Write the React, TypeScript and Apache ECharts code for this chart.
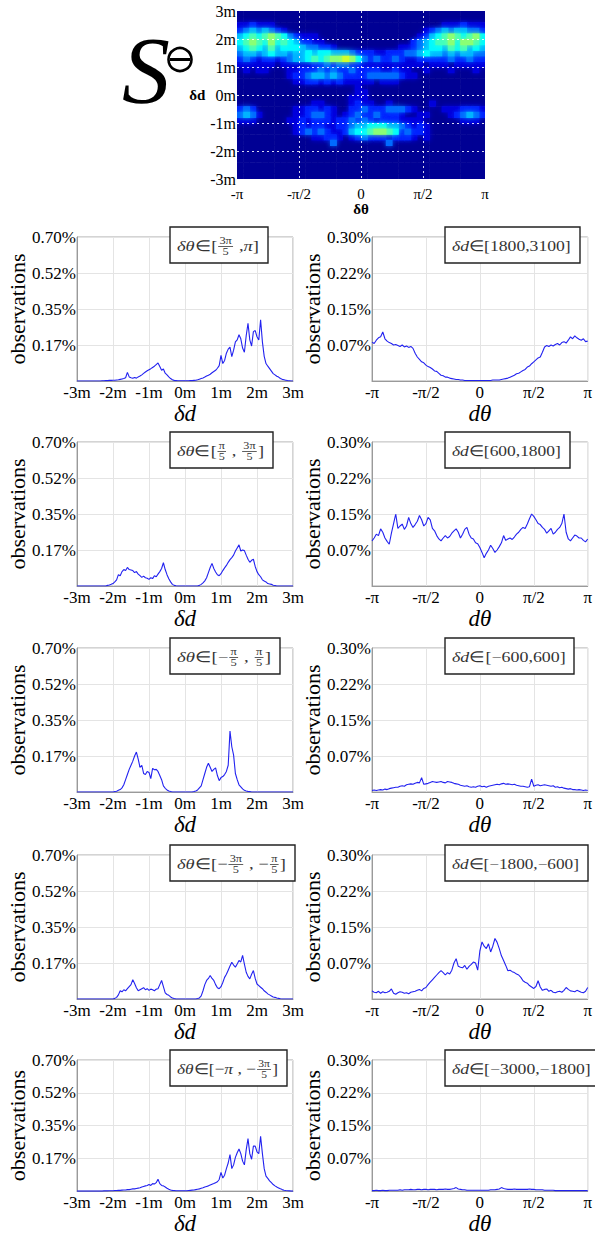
import React, { useEffect, useRef } from 'react';
import * as echarts from 'echarts';

const FONT = 'Liberation Serif';

// ---------- Heatmap (S⊖) ----------
const HEAT_THETA_LABELS = ['-π', '-π/2', '0', 'π/2', 'π'];
const HEAT_D_LABELS = ['-3m', '-2m', '-1m', '0m', '1m', '2m', '3m'];
// 30 rows (δd from 3m at top down to -3m), 40 columns (δθ from -π to π); intensity 0..9
const HEAT_ROWS = [
  '0000000000' + '0000000000' + '0000000000' + '0000000000',
  '0000000000' + '0000000000' + '0000000000' + '0000000000',
  '1121110000' + '0000000000' + '0000000000' + '0001112111',
  '2343432100' + '0000000000' + '0000000000' + '1234344332',
  '4565676532' + '1110000000' + '0000000001' + '2456765675',
  '5676575654' + '2211000000' + '0000000023' + '4566757765',
  '4565464555' + '4332210000' + '0000001123' + '4554656454',
  '3443454434' + '4545544432' + '2211222334' + '5443434433',
  '2321221234' + '4565677875' + '3232232112' + '2222322322',
  '1111110111' + '1122323322' + '1111111111' + '0111011111',
  '0101100011' + '2223232232' + '2221121100' + '1000100010',
  '0000000012' + '2344343222' + '2333332110' + '0000000000',
  '0000000001' + '1221212111' + '1101110000' + '0000000000',
  '0000000000' + '0000000001' + '0000000000' + '0000000000',
  '0000000000' + '0000000001' + '1000000000' + '0000000000',
  '0000000000' + '0000000011' + '1000000000' + '0000000000',
  '0000000000' + '0011000012' + '1100100000' + '0100000000',
  '2320000001' + '1221210022' + '3222333210' + '0001112221',
  '3431000001' + '1233210123' + '2232221001' + '1000123432',
  '1110000011' + '2122212232' + '3212221111' + '0000001110',
  '0000000001' + '2122112234' + '4555443212' + '1000000000',
  '0000000001' + '2323211245' + '5677652322' + '1000000000',
  '0000000000' + '0011221012' + '3222122210' + '1000000000',
  '0000000000' + '0000030000' + '0000300000' + '0000000000',
  '0000000000' + '0000000000' + '0000000000' + '0000000000',
  '0000000000' + '0000000000' + '0000000000' + '0000000000',
  '0000000000' + '0000000000' + '0000000000' + '0000000000',
  '0000000000' + '0000000000' + '0000000000' + '0000000000',
  '0000000000' + '0000000000' + '0000000000' + '0000000000',
  '0000000000' + '0000000000' + '0000000000' + '0000000000',
];

// ---------- Line panels ----------
const LEFT_X_LABELS = ['-3m', '-2m', '-1m', '0m', '1m', '2m', '3m'];
const RIGHT_X_LABELS = ['-π', '-π/2', '0', 'π/2', 'π'];
const LEFT_Y_LABELS = ['0.17%', '0.35%', '0.52%', '0.70%'];
const RIGHT_Y_LABELS = ['0.07%', '0.15%', '0.22%', '0.30%'];

// δd sampled from -3m to 3m in steps of 0.05m (121 values), in %
const L1 = [0,0,0,0,0,0,0,0,0,0,
  0,0,0,0,0.001,0.001,0.002,0.002,0.003,0.003,
  0.004,0.004,0.005,0.006,0.008,0.01,0.012,0.016,0.042,0.02,
  0.016,0.013,0.017,0.014,0.02,0.024,0.03,0.037,0.044,0.05,
  0.055,0.06,0.066,0.072,0.08,0.088,0.07,0.052,0.058,0.038,
  0.03,0.02,0.012,0.006,0.003,0.002,0.001,0.001,0.001,0.001,
  0.001,0.001,0.001,0.002,0.002,0.003,0.004,0.006,0.009,0.012,
  0.015,0.019,0.024,0.028,0.033,0.04,0.046,0.052,0.062,0.075,
  0.125,0.085,0.1,0.135,0.155,0.165,0.118,0.15,0.19,0.2,
  0.225,0.205,0.16,0.14,0.22,0.28,0.2,0.17,0.24,0.245,
  0.215,0.2,0.298,0.19,0.12,0.085,0.072,0.06,0.048,0.036,
  0.03,0.023,0.019,0.012,0.008,0.006,0.004,0.002,0.001,0,
  0];
const L2 = [0,0,0,0,0,0,0,0,0,0,
  0,0,0,0,0,0,0,0.003,0.005,0.008,
  0.012,0.02,0.03,0.055,0.05,0.07,0.08,0.075,0.09,0.08,
  0.078,0.075,0.065,0.07,0.058,0.05,0.042,0.048,0.04,0.038,
  0.032,0.04,0.036,0.05,0.045,0.058,0.07,0.085,0.113,0.08,
  0.055,0.035,0.02,0.008,0.003,0.001,0,0,0,0,
  0,0,0,0,0,0,0,0,0.003,0.008,
  0.015,0.025,0.04,0.065,0.09,0.11,0.085,0.068,0.055,0.05,
  0.06,0.075,0.088,0.1,0.115,0.128,0.138,0.15,0.17,0.185,
  0.2,0.17,0.175,0.172,0.15,0.13,0.115,0.125,0.13,0.095,
  0.07,0.055,0.045,0.03,0.024,0.02,0.012,0.01,0.008,0.004,
  0.002,0,0,0,0,0,0,0,0,0,
  0];
const L3 = [0,0,0,0,0,0,0,0,0,0,
  0,0,0,0,0,0,0,0,0,0,
  0,0.002,0.004,0.008,0.012,0.02,0.035,0.06,0.085,0.11,
  0.13,0.15,0.175,0.194,0.16,0.12,0.13,0.09,0.085,0.1,
  0.095,0.065,0.115,0.108,0.11,0.1,0.08,0.06,0.03,0.018,
  0.01,0.005,0.002,0,0,0,0,0,0,0,
  0,0,0,0,0,0.002,0.005,0.01,0.02,0.03,
  0.06,0.09,0.12,0.14,0.12,0.1,0.11,0.117,0.08,0.055,
  0.07,0.075,0.085,0.1,0.13,0.296,0.22,0.179,0.09,0.06,
  0.035,0.025,0.015,0.008,0.005,0.003,0.002,0,0,0,
  0,0,0,0,0,0,0,0,0,0,
  0,0,0,0,0,0,0,0,0,0,
  0];
const L4 = [0,0,0,0,0,0,0,0,0,0,
  0,0,0,0,0,0,0,0,0,0,
  0,0.003,0.008,0.02,0.04,0.035,0.045,0.04,0.05,0.06,
  0.07,0.094,0.075,0.055,0.04,0.045,0.05,0.055,0.045,0.05,
  0.042,0.048,0.045,0.04,0.048,0.05,0.07,0.09,0.06,0.03,
  0.022,0.018,0.01,0.005,0.002,0,0,0,0,0,
  0,0,0,0,0,0,0,0.002,0.005,0.015,
  0.04,0.07,0.09,0.1,0.114,0.1,0.09,0.07,0.055,0.05,
  0.06,0.08,0.105,0.12,0.14,0.16,0.179,0.165,0.155,0.17,
  0.187,0.18,0.212,0.17,0.13,0.11,0.098,0.12,0.138,0.1,
  0.073,0.065,0.057,0.05,0.04,0.033,0.025,0.02,0.015,0.01,
  0.008,0.005,0.003,0.001,0,0,0,0,0,0,
  0];
const L5 = [0,0,0,0,0,0,0,0,0,0,
  0,0,0,0,0,0.001,0.001,0.001,0.002,0.002,
  0.002,0.003,0.003,0.004,0.004,0.005,0.006,0.006,0.008,0.008,
  0.01,0.012,0.012,0.014,0.016,0.018,0.022,0.025,0.028,0.03,
  0.035,0.03,0.04,0.038,0.045,0.063,0.04,0.03,0.028,0.022,
  0.015,0.01,0.006,0.004,0.003,0.002,0.002,0.002,0.002,0.002,
  0.002,0.002,0.003,0.004,0.005,0.006,0.008,0.01,0.012,0.015,
  0.018,0.022,0.025,0.028,0.032,0.036,0.04,0.045,0.05,0.062,
  0.1,0.07,0.085,0.12,0.15,0.195,0.12,0.14,0.18,0.205,
  0.225,0.2,0.16,0.14,0.22,0.28,0.2,0.17,0.24,0.24,
  0.21,0.2,0.293,0.2,0.12,0.08,0.068,0.055,0.045,0.035,
  0.028,0.022,0.017,0.012,0.008,0.005,0.003,0.002,0.001,0,
  0];

// dθ sampled from -π to π in steps of π/50 (101 values), in %
const R1 = [0.081,0.078,0.085,0.09,0.092,0.102,0.088,0.083,0.08,0.078,
  0.075,0.076,0.074,0.072,0.075,0.071,0.073,0.07,0.072,0.068,
  0.058,0.05,0.045,0.04,0.038,0.033,0.03,0.028,0.025,0.021,
  0.02,0.016,0.012,0.011,0.008,0.008,0.006,0.005,0.004,0.003,
  0.003,0.002,0.002,0.001,0.001,0.001,0.001,0.001,0.001,0.001,
  0.001,0.001,0.001,0.001,0.001,0.001,0.002,0.002,0.002,0.002,
  0.003,0.004,0.005,0.006,0.008,0.01,0.012,0.015,0.016,0.019,
  0.022,0.024,0.029,0.031,0.036,0.04,0.044,0.048,0.05,0.06,
  0.071,0.074,0.072,0.075,0.073,0.076,0.078,0.075,0.08,0.082,
  0.079,0.085,0.092,0.088,0.094,0.09,0.087,0.085,0.088,0.082,
  0.083];
const R2 = [0.094,0.1,0.108,0.105,0.119,0.112,0.1,0.093,0.087,0.11,
  0.13,0.15,0.12,0.125,0.129,0.118,0.125,0.143,0.13,0.122,
  0.128,0.135,0.147,0.138,0.125,0.13,0.143,0.138,0.12,0.115,
  0.105,0.098,0.094,0.1,0.105,0.1,0.103,0.11,0.115,0.119,
  0.112,0.1,0.108,0.118,0.122,0.108,0.1,0.098,0.09,0.088,
  0.08,0.07,0.059,0.068,0.075,0.085,0.078,0.07,0.075,0.082,
  0.09,0.105,0.095,0.098,0.1,0.097,0.102,0.108,0.112,0.118,
  0.122,0.12,0.129,0.14,0.15,0.145,0.138,0.13,0.128,0.122,
  0.118,0.11,0.115,0.12,0.108,0.112,0.118,0.122,0.13,0.15,
  0.112,0.098,0.094,0.1,0.106,0.104,0.1,0.1,0.095,0.092,
  0.098];
const R3 = [0.003,0.004,0.003,0.004,0.005,0.004,0.006,0.005,0.007,0.008,
  0.009,0.01,0.01,0.012,0.013,0.012,0.015,0.016,0.017,0.016,
  0.018,0.02,0.019,0.03,0.016,0.017,0.018,0.02,0.022,0.021,
  0.02,0.021,0.022,0.02,0.019,0.022,0.021,0.02,0.018,0.017,
  0.016,0.014,0.013,0.012,0.013,0.011,0.01,0.011,0.01,0.012,
  0.013,0.011,0.012,0.01,0.012,0.013,0.014,0.015,0.016,0.015,
  0.017,0.018,0.016,0.017,0.016,0.015,0.016,0.014,0.013,0.012,
  0.012,0.011,0.01,0.011,0.027,0.012,0.014,0.015,0.013,0.014,
  0.015,0.014,0.013,0.012,0.013,0.01,0.011,0.009,0.01,0.008,
  0.007,0.006,0.007,0.005,0.005,0.004,0.005,0.004,0.003,0.004,
  0.003];
const R4 = [0.017,0.014,0.013,0.016,0.012,0.015,0.013,0.014,0.016,0.021,
  0.012,0.01,0.013,0.015,0.014,0.012,0.013,0.011,0.014,0.015,
  0.016,0.018,0.02,0.017,0.022,0.024,0.03,0.035,0.04,0.045,
  0.05,0.055,0.059,0.055,0.05,0.055,0.052,0.06,0.075,0.084,
  0.068,0.066,0.065,0.07,0.062,0.068,0.072,0.077,0.075,0.06,
  0.1,0.119,0.11,0.105,0.115,0.098,0.11,0.126,0.118,0.105,
  0.09,0.08,0.07,0.059,0.06,0.057,0.055,0.052,0.05,0.045,
  0.038,0.035,0.033,0.028,0.025,0.022,0.026,0.038,0.025,0.018,
  0.02,0.021,0.016,0.018,0.014,0.013,0.015,0.016,0.014,0.018,
  0.024,0.02,0.017,0.016,0.015,0.018,0.016,0.014,0.013,0.016,
  0.024];
const R5 = [0.001,0.001,0.002,0.001,0.001,0.002,0.001,0.001,0.002,0.002,
  0.002,0.002,0.002,0.003,0.002,0.003,0.003,0.003,0.004,0.003,
  0.003,0.004,0.004,0.003,0.004,0.004,0.003,0.004,0.004,0.004,
  0.003,0.004,0.004,0.004,0.005,0.004,0.004,0.005,0.006,0.008,
  0.005,0.004,0.003,0.003,0.002,0.002,0.002,0.002,0.002,0.002,
  0.002,0.002,0.002,0.002,0.002,0.003,0.003,0.003,0.004,0.005,
  0.008,0.006,0.005,0.004,0.004,0.004,0.005,0.004,0.004,0.004,
  0.004,0.004,0.004,0.005,0.004,0.004,0.003,0.003,0.003,0.003,
  0.002,0.002,0.002,0.002,0.002,0.001,0.001,0.001,0.001,0.001,
  0.001,0.001,0.001,0.001,0.001,0.001,0.001,0.001,0.001,0.001,
  0.001];

const LEFT_SERIES = [L1, L2, L3, L4, L5];
const RIGHT_SERIES = [R1, R2, R3, R4, R5];

type Tok = { s: string; it?: boolean } | { n: string; d: string };
const LEFT_LEGENDS: Tok[][] = [
  [{ s: 'δθ', it: true }, { s: '∈[' }, { n: '3π', d: '5' }, { s: ' ,' }, { s: 'π', it: true }, { s: ']' }],
  [{ s: 'δθ', it: true }, { s: '∈[' }, { n: 'π', d: '5' }, { s: ' , ' }, { n: '3π', d: '5' }, { s: ']' }],
  [{ s: 'δθ', it: true }, { s: '∈[−' }, { n: 'π', d: '5' }, { s: ' , ' }, { n: 'π', d: '5' }, { s: ']' }],
  [{ s: 'δθ', it: true }, { s: '∈[−' }, { n: '3π', d: '5' }, { s: ' , −' }, { n: 'π', d: '5' }, { s: ']' }],
  [{ s: 'δθ', it: true }, { s: '∈[−' }, { s: 'π', it: true }, { s: ' , −' }, { n: '3π', d: '5' }, { s: ']' }],
];
const RIGHT_LEGENDS: Tok[][] = [
  [{ s: 'δd', it: true }, { s: '∈[1800,3100]' }],
  [{ s: 'δd', it: true }, { s: '∈[600,1800]' }],
  [{ s: 'δd', it: true }, { s: '∈[−600,600]' }],
  [{ s: 'δd', it: true }, { s: '∈[−1800,−600]' }],
  [{ s: 'δd', it: true }, { s: '∈[−3000,−1800]' }],
];

// ---------- layout ----------
const ROW_TOPS = [237, 442, 648, 855, 1060];
const PANEL_H = 144;
const LEFT_X = 77;
const RIGHT_X = 372;
const PANEL_W = 216;
const LEFT_BOX_W = [98, 103, 110, 125, 117];
const RIGHT_BOX_W = [135, 125, 129, 143, 155];

let measureCtx: CanvasRenderingContext2D | null = null;
function measure(text: string, font: string): number {
  if (!measureCtx) measureCtx = document.createElement('canvas').getContext('2d');
  if (!measureCtx) return text.length * 8;
  measureCtx.font = font;
  return measureCtx.measureText(text).width;
}

function jet(v: number): string {
  const t = 0.02 + v * 0.07;
  const c = (x: number) => Math.max(0, Math.min(1, x));
  const r = c(1.5 - Math.abs(4 * t - 3));
  const g = c(1.5 - Math.abs(4 * t - 2));
  const b = c(1.5 - Math.abs(4 * t - 1));
  return `rgb(${Math.round(r * 255)},${Math.round(g * 255)},${Math.round(b * 255)})`;
}

function txtStyle(text: string, font: string, align: string, fill: string) {
  return { text, font, fill, align, verticalAlign: 'middle', textAlign: align, textVerticalAlign: 'middle' };
}

function legendElements(boxX: number, boxY: number, boxW: number, toks: Tok[]): any[] {
  const color = '#333';
  const children: any[] = [];
  let x = 0;
  const fracFont = `10px ${FONT}`;
  for (const t of toks) {
    if ('n' in t) {
      const w = Math.max(measure(t.n, fracFont), measure(t.d, fracFont)) + 2;
      x += 1;
      children.push({ type: 'text', x: x + w / 2, y: -5.5, style: txtStyle(t.n, fracFont, 'center', color) });
      children.push({ type: 'text', x: x + w / 2, y: 5.5, style: txtStyle(t.d, fracFont, 'center', color) });
      children.push({ type: 'line', shape: { x1: x, y1: 0.5, x2: x + w, y2: 0.5 }, style: { stroke: color, lineWidth: 0.7 } });
      x += w + 1;
    } else {
      const font = `${t.it ? 'italic ' : ''}15px ${FONT}`;
      children.push({ type: 'text', x, y: 0, style: txtStyle(t.s, font, 'left', color) });
      x += measure(t.s, font);
    }
  }
  const scale = Math.max(1, Math.min(1.35, (boxW - 16) / x));
  return [
    { type: 'rect', z: 100, shape: { x: boxX, y: boxY, width: boxW, height: 36 }, style: { fill: '#fff', stroke: '#222', lineWidth: 1.4 } },
    { type: 'group', z: 101, x: boxX + 7, y: boxY + 19, scaleX: scale, children: children.map((c) => ({ ...c, z: 101 })) },
  ];
}

function buildOption(): any {
  const grids: any[] = [];
  const xAxes: any[] = [];
  const yAxes: any[] = [];
  const series: any[] = [];
  const graphics: any[] = [];

  // heatmap grid
  grids.push({ left: 237, top: 11, width: 248, height: 168, show: false });
  xAxes.push({
    gridIndex: 0, type: 'value', min: -1, max: 1, interval: 0.5, z: 5,
    axisLine: { show: false, onZero: false }, axisTick: { show: false },
    axisLabel: { formatter: (v: number) => HEAT_THETA_LABELS[Math.round((v + 1) / 0.5)] ?? '', fontFamily: FONT, fontSize: 15, color: '#000', margin: 7 },
    splitLine: { show: true, showMinLine: false, showMaxLine: false, lineStyle: { color: '#ffffff', type: [2, 3], width: 1, opacity: 0.85 } },
    name: 'δθ', nameLocation: 'middle', nameGap: 16,
    nameTextStyle: { fontFamily: FONT, fontWeight: 'bold', fontSize: 15, color: '#000' },
  });
  yAxes.push({
    gridIndex: 0, type: 'value', min: -3, max: 3, interval: 1, z: 5,
    axisLine: { show: false, onZero: false }, axisTick: { show: false },
    axisLabel: { formatter: (v: number) => HEAT_D_LABELS[Math.round(v + 3)] ?? '', fontFamily: FONT, fontSize: 16, color: '#000', margin: 1 },
    splitLine: { show: true, showMinLine: false, showMaxLine: false, lineStyle: { color: '#ffffff', type: [2, 3], width: 1, opacity: 0.85 } },
    name: 'δd', nameLocation: 'middle', nameGap: 25, nameRotate: 0,
    nameTextStyle: { fontFamily: FONT, fontWeight: 'bold', fontSize: 15, color: '#000' },
  });
  const nCols = 40;
  const nRows = HEAT_ROWS.length;
  const cw = 2 / nCols;
  const ch = 6 / nRows;
  const heatData: number[][] = [];
  HEAT_ROWS.forEach((row, r) => {
    const s = row.padEnd(nCols, '0');
    for (let c = 0; c < nCols; c++) {
      heatData.push([-1 + (c + 0.5) * cw, 3 - (r + 0.5) * ch, Number(s[c])]);
    }
  });
  // draw low values first so brighter cells sit on top
  heatData.sort((a, b) => a[2] - b[2]);
  series.push({
    type: 'custom', xAxisIndex: 0, yAxisIndex: 0, silent: true, clip: true,
    data: heatData,
    encode: { x: 0, y: 1 },
    renderItem: (_p: any, api: any) => {
      const x = api.value(0);
      const y = api.value(1);
      const v = api.value(2);
      const p0 = api.coord([x - cw / 2, y + ch / 2]);
      const p1 = api.coord([x + cw / 2, y - ch / 2]);
      const col = jet(v);
      const style: any = { fill: col };
      if (v > 0) {
        style.shadowBlur = 5;
        style.shadowColor = col;
      }
      return {
        type: 'rect',
        shape: { x: p0[0], y: p0[1], width: p1[0] - p0[0] + 0.6, height: p1[1] - p0[1] + 0.6 },
        style,
      };
    },
  });

  // S⊖ symbol
  graphics.push({ type: 'text', x: 122, y: 70, style: txtStyle('S', `italic 96px ${FONT}`, 'left', '#000') });
  graphics.push({ type: 'circle', shape: { cx: 180, cy: 59.5, r: 11.5 }, style: { fill: 'none', stroke: '#000', lineWidth: 2.6 } });
  graphics.push({ type: 'line', shape: { x1: 170, y1: 59.5, x2: 190, y2: 59.5 }, style: { stroke: '#000', lineWidth: 3 } });

  // line panels
  for (let k = 0; k < 5; k++) {
    for (let s = 0; s < 2; s++) {
      const gi = grids.length;
      const top = ROW_TOPS[k];
      const left = s === 0 ? LEFT_X : RIGHT_X;
      grids.push({ left, top, width: PANEL_W, height: PANEL_H, show: true, borderColor: '#a8a8a8', borderWidth: 1, backgroundColor: '#fff' });
      const xmin = s === 0 ? -3 : -1;
      const xint = s === 0 ? 1 : 0.5;
      const xl = s === 0 ? LEFT_X_LABELS : RIGHT_X_LABELS;
      const ymax = s === 0 ? 0.7 : 0.3;
      const yint = s === 0 ? 0.175 : 0.075;
      const yl = s === 0 ? LEFT_Y_LABELS : RIGHT_Y_LABELS;
      xAxes.push({
        gridIndex: gi, type: 'value', min: xmin, max: -xmin, interval: xint,
        axisLine: { show: true, onZero: false, lineStyle: { color: '#9a9a9a', width: 1 } }, axisTick: { show: false },
        axisLabel: { formatter: (v: number) => xl[Math.round((v - xmin) / xint)] ?? '', fontFamily: FONT, fontSize: 17, color: '#000', margin: 3 },
        splitLine: { show: true, lineStyle: { color: '#e4e4e4', width: 1 } },
        name: s === 0 ? 'δd' : 'dθ', nameLocation: 'middle', nameGap: 8,
        nameTextStyle: { fontFamily: FONT, fontStyle: 'italic', fontSize: 23, color: '#000' },
      });
      yAxes.push({
        gridIndex: gi, type: 'value', min: 0, max: ymax, interval: yint,
        axisLine: { show: true, onZero: false, lineStyle: { color: '#9a9a9a', width: 1 } }, axisTick: { show: false },
        axisLabel: { formatter: (v: number) => (v < 1e-9 ? '' : yl[Math.round(v / yint) - 1] ?? ''), fontFamily: FONT, fontSize: 17, color: '#000', margin: 1 },
        splitLine: { show: true, lineStyle: { color: '#e4e4e4', width: 1 } },
        name: 'observations', nameLocation: 'middle', nameGap: 47,
        nameTextStyle: { fontFamily: FONT, fontSize: 22, color: '#000' },
      });
      const vals = s === 0 ? LEFT_SERIES[k] : RIGHT_SERIES[k];
      const step = s === 0 ? 0.05 : 0.02;
      series.push({
        type: 'line', xAxisIndex: gi, yAxisIndex: gi, silent: true, showSymbol: false, symbol: 'none',
        lineStyle: { color: '#2222f0', width: 1.1 },
        data: vals.map((v, i) => [xmin + i * step, v]),
      });
      const boxY = top - 10;
      if (s === 0) graphics.push(...legendElements(170, boxY, LEFT_BOX_W[k], LEFT_LEGENDS[k]));
      else graphics.push(...legendElements(445, boxY, RIGHT_BOX_W[k], RIGHT_LEGENDS[k]));
    }
  }

  return {
    animation: false,
    backgroundColor: '#ffffff',
    textStyle: { fontFamily: FONT },
    grid: grids,
    xAxis: xAxes,
    yAxis: yAxes,
    series,
    graphic: { elements: graphics },
  };
}

export default function App() {
  const ref = useRef<HTMLDivElement>(null);
  useEffect(() => {
    if (!ref.current) return;
    const chart = echarts.init(ref.current, null, { renderer: 'svg' });
    chart.setOption(buildOption());
    return () => chart.dispose();
  }, []);
  return <div ref={ref} style={{ position: 'absolute', left: 0, top: 0, width: 595, height: 1236, background: '#fff' }} />;
}
